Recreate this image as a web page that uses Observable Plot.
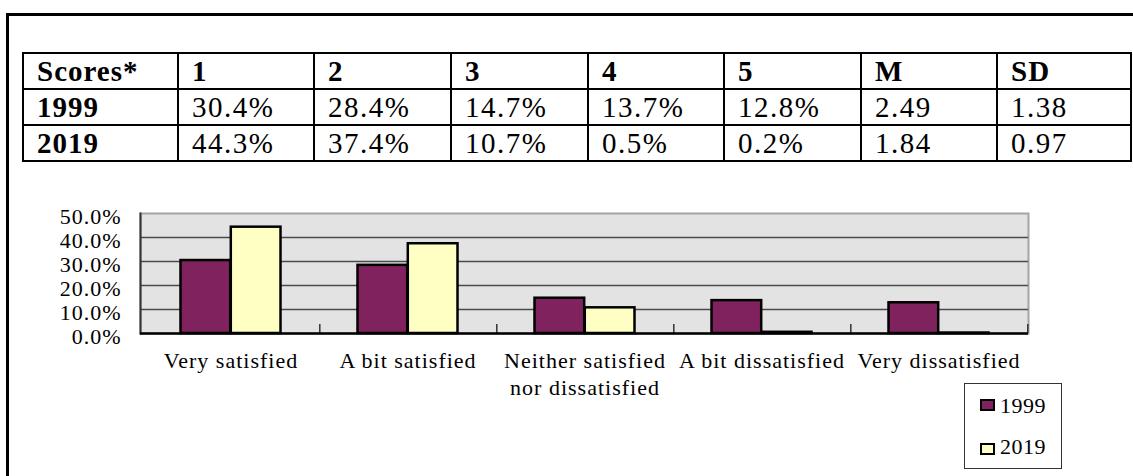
<!DOCTYPE html>
<html>
<head>
<meta charset="utf-8">
<script src="https://cdn.jsdelivr.net/npm/d3@7"></script>
<script src="https://cdn.jsdelivr.net/npm/@observablehq/plot@0.6"></script>
<style>
  html, body { margin: 0; padding: 0; background: #fff; overflow: hidden; }
  body { width: 1133px; height: 476px; position: relative; font-family: "Liberation Serif", "Times New Roman", serif; color: #000; }
  #frame { position: absolute; left: 6px; top: 13px; width: 2000px; height: 2000px; border-left: 3px solid #000; border-top: 3px solid #000; }
  table { position: absolute; left: 22px; top: 52px; border-collapse: collapse; table-layout: fixed; }
  td { border: 2px solid #000; height: 34px; padding: 0 0 0 13px; line-height: 34px; white-space: nowrap; overflow: hidden;
       font-family: "Liberation Serif", "Times New Roman", serif; font-size: 29px; letter-spacing: 1.5px; }
  td.b { font-weight: bold; letter-spacing: 1px; }
  #chart { position: absolute; left: 0; top: 190px; }
  #chart svg text { letter-spacing: 1px; }
  #legend { position: absolute; left: 964px; top: 383px; width: 98px; height: 86px; border: 1px solid #333; box-sizing: border-box;
            font-family: "Liberation Serif", "Times New Roman", serif; font-size: 22px; letter-spacing: 0.5px; }
  .sw { position: absolute; left: 15px; width: 11px; height: 8px; border: 2px solid #000; }
  .lt { position: absolute; left: 35px; line-height: 22px; }
</style>
</head>
<body>
<div id="frame"></div>
<table id="tbl"></table>
<div id="chart"></div>
<div id="legend"></div>
<script>
// ---- data ----
const scoreHeaders = ["Scores*", "1", "2", "3", "4", "5", "M", "SD"];
const row1999 = ["1999", "30.4%", "28.4%", "14.7%", "13.7%", "12.8%", "2.49", "1.38"];
const row2019 = ["2019", "44.3%", "37.4%", "10.7%", "0.5%", "0.2%", "1.84", "0.97"];

const categories = ["Very satisfied", "A bit satisfied", "Neither satisfied\nnor dissatisfied", "A bit dissatisfied", "Very dissatisfied"];
const values1999 = [30.4, 28.4, 14.7, 13.7, 12.8];
const values2019 = [44.3, 37.4, 10.7, 0.5, 0.2];
const yTicks = [0, 10, 20, 30, 40, 50];
const seriesNames = ["1999", "2019"];
const seriesColors = ["#80225e", "#ffffc4"];

// ---- table ----
const colWidths = [155, 136, 137, 137, 136, 137, 136, 134];
const tbl = document.getElementById("tbl");
const cg = document.createElement("colgroup");
colWidths.forEach(w => { const c = document.createElement("col"); c.style.width = w + "px"; cg.appendChild(c); });
tbl.appendChild(cg);
[scoreHeaders, row1999, row2019].forEach((row, ri) => {
  const tr = document.createElement("tr");
  row.forEach((v, ci) => {
    const td = document.createElement("td");
    td.textContent = v;
    if (ri === 0 || ci === 0) td.className = "b";
    tr.appendChild(td);
  });
  tbl.appendChild(tr);
});

// ---- chart ----
const d1999 = categories.map((c, i) => ({category: c, value: values1999[i]}));
const d2019 = categories.map((c, i) => ({category: c, value: values2019[i]}));
const half = 888 / categories.length / 2;

const chart = Plot.plot({
  width: 1133,
  height: 210,
  marginLeft: 140,
  marginRight: 105,
  marginTop: 23,
  marginBottom: 67,
  style: {fontFamily: "Liberation Serif, Times New Roman, serif", fontSize: "22px", color: "#000", background: "transparent"},
  x: {domain: categories, padding: 0},
  y: {domain: [0, 50]},
  marks: [
    Plot.frame({fill: "#e3e3e3", stroke: "#a4a4a4", strokeWidth: 2}),
    Plot.ruleY([10, 20, 30, 40], {stroke: "#4a4a4a", strokeWidth: 1.5}),
    Plot.frame({anchor: "left", stroke: "#333", strokeWidth: 2}),
    Plot.ruleX(categories, {x: d => d, dx: half, y1: 0, y2: 3.7, stroke: "#333", strokeWidth: 1.5}),
    Plot.barY(d1999, {x: "category", y: "value", fill: seriesColors[0], stroke: "#000", strokeWidth: 2.5, insetLeft: 38.5, insetRight: half}),
    Plot.barY(d2019, {x: "category", y: "value", fill: seriesColors[1], stroke: "#000", strokeWidth: 2.5, insetLeft: half, insetRight: 38.5}),
    Plot.ruleY([0], {stroke: "#000", strokeWidth: 2.5}),
    Plot.axisY({ticks: yTicks, tickFormat: d => d.toFixed(1) + "%", tickSize: 0, tickPadding: 19, dy: 3, fontSize: 22, label: null}),
    Plot.axisX({tickSize: 0, tickPadding: 16, fontSize: 22, lineHeight: 1.2, label: null})
  ]
});
document.getElementById("chart").appendChild(chart);

// ---- legend ----
const legend = document.getElementById("legend");
seriesNames.forEach((name, i) => {
  const sw = document.createElement("div");
  sw.className = "sw";
  sw.style.top = (i === 0 ? 15 : 59) + "px";
  sw.style.background = seriesColors[i];
  const t = document.createElement("div");
  t.className = "lt";
  t.style.top = (i === 0 ? 11 : 52) + "px";
  t.textContent = name;
  legend.appendChild(sw);
  legend.appendChild(t);
});
</script>
</body>
</html>
